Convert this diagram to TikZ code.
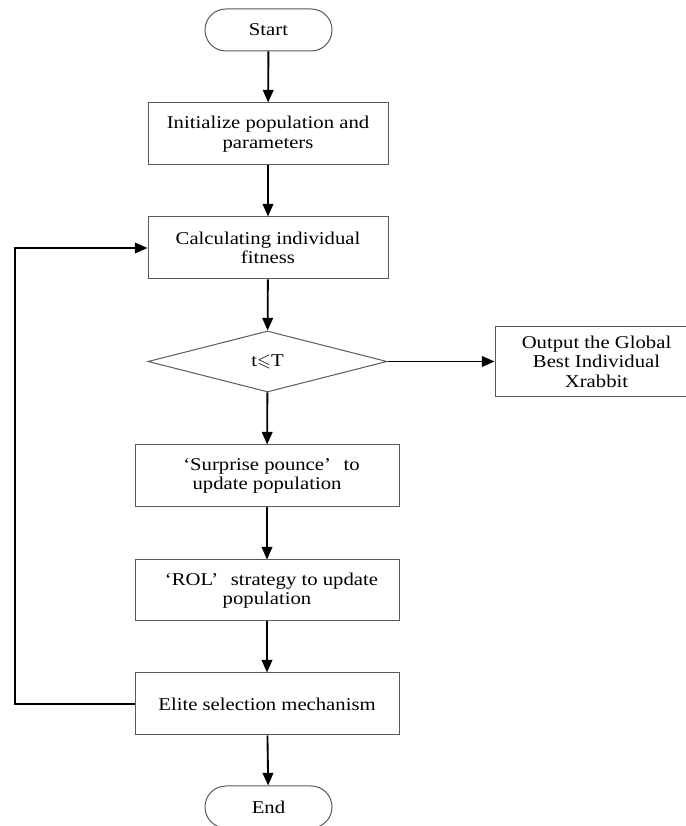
\documentclass[tikz,border=0pt]{standalone}
\usepackage{fontspec}
\usepackage{amssymb}
\setmainfont[FakeStretch=1.15]{Liberation Serif}
\usetikzlibrary{shapes.geometric,arrows.meta}
\begin{document}
\begin{tikzpicture}[x=0.75pt,y=0.75pt,
  every node/.style={font=\fontsize{13.5}{14.6}\selectfont, align=center, inner sep=0pt},
  procbox/.style={draw=black!65, line width=0.75pt, rectangle, minimum width=180pt, minimum height=46.5pt},
  widebox/.style={procbox, minimum width=198pt},
  termbox/.style={draw=black!65, line width=0.75pt, rectangle, rounded corners=15.7pt, minimum width=95.25pt, minimum height=31.5pt},
  decbox/.style={draw=black!65, line width=0.75pt, diamond, minimum width=179.25pt, minimum height=45.75pt},
  flow/.style={line width=1.4pt, -{Triangle[length=9.5pt,width=8pt]}},
  loopline/.style={line width=1.1pt, -{Triangle[length=9.5pt,width=8pt]}}
]
\useasboundingbox (0,0) rectangle (686,826);
\clip (0,0) rectangle (686,826);
\node[termbox] (start) at (268.5,796) {Start};
\node[procbox] (init) at (268,692) {Initialize population and\\parameters};
\node[procbox] (calc) at (268,578) {Calculating individual\\fitness};
\node[decbox] (dec) at (267.5,464.5) {t$\leqslant$T};
\node[procbox, minimum width=152.25pt, minimum height=52.5pt] (out) at (596.5,464.5) {Output the Global\\Best Individual\\Xrabbit};
\node[widebox] (surp) at (267,350) {\hspace{0.5em}‘Surprise pounce’\hspace{0.7em}to\\update population};
\node[widebox, minimum height=45.75pt] (rol) at (267,235.5) {\hspace{0.5em}‘ROL’\hspace{0.7em}strategy to update\\population};
\node[widebox] (elite) at (267,122) {Elite selection mechanism};
\node[termbox] (end) at (268.5,19) {End};
\coordinate (lb) at (15,122);
\coordinate (lt) at (15,578);
\draw[flow] (start) -- (init);
\draw[flow] (init) -- (calc);
\draw[flow] (calc) -- (dec);
\draw[flow] (dec) -- (out);
\draw[flow] (dec) -- (surp);
\draw[flow] (surp) -- (rol);
\draw[flow] (rol) -- (elite);
\draw[flow] (elite) -- (end);
\draw[loopline] (elite.west) -- (lb) -- (lt) -- (calc.west);
\end{tikzpicture}
\end{document}
